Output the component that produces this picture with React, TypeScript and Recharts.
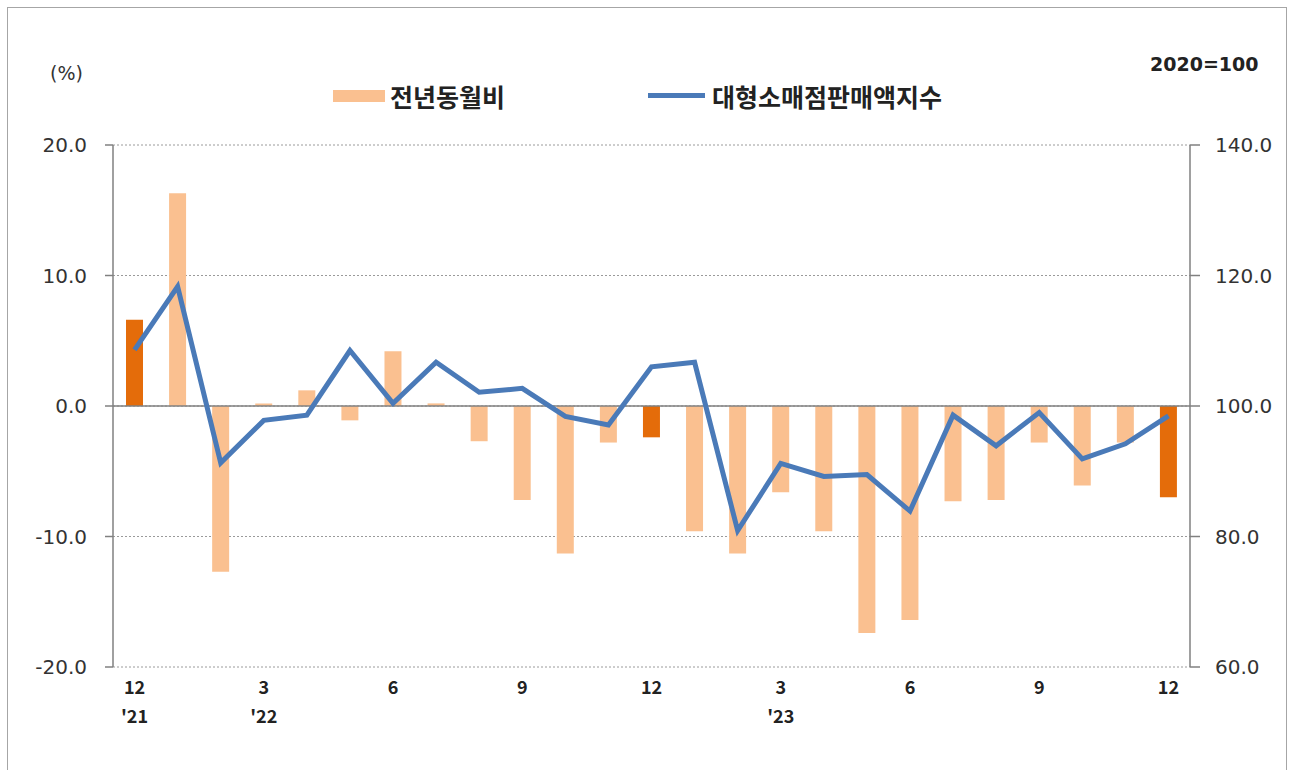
import React from 'react';
import { ComposedChart, Bar, Line, XAxis, YAxis, CartesianGrid, ReferenceLine, Cell } from 'recharts';

// Dec 2021 .. Dec 2023
const months = [12, 1, 2, 3, 4, 5, 6, 7, 8, 9, 10, 11, 12, 1, 2, 3, 4, 5, 6, 7, 8, 9, 10, 11, 12];
const monthLabels = ['12', '', '', '3', '', '', '6', '', '', '9', '', '', '12', '', '', '3', '', '', '6', '', '', '9', '', '', '12'];
const yearLabels = ["'21", '', '', "'22", '', '', '', '', '', '', '', '', '', '', '', "'23", '', '', '', '', '', '', '', '', ''];

// 전년동월비 (%)
const yoyChange = [6.6, 16.3, -12.7, 0.2, 1.2, -1.1, 4.2, 0.2, -2.7, -7.2, -11.3, -2.8, -2.4, -9.6, -11.3, -6.6, -9.6, -17.4, -16.4, -7.3, -7.2, -2.8, -6.1, -2.8, -7.0];
// 대형소매점판매액지수 (2020=100)
const salesIndex = [108.6, 118.3, 91.3, 97.8, 98.6, 108.5, 100.4, 106.7, 102.1, 102.7, 98.4, 97.1, 106.0, 106.7, 80.9, 91.2, 89.2, 89.5, 83.9, 98.6, 93.9, 99.0, 91.9, 94.2, 98.5];

const leftTicks = [-20, -10, 0, 10, 20];
const rightTicks = [60, 80, 100, 120, 140];

const data = months.map((m, i) => ({
  idx: i,
  month: m,
  yoy: yoyChange[i],
  index: salesIndex[i],
}));

const LIGHT = '#FAC090';
const DARK = '#E46C0A';
const BLUE = '#4A7AB8';
const TEXT = '#333';

const MonthTick = (props: any) => {
  const { x, y, payload } = props;
  const i = payload.value;
  return (
    <g>
      {monthLabels[i] && (
        <text x={x} y={y + 27} textAnchor="middle" fontSize={18} fontWeight={700} fill="#222"
          fontFamily="'Noto Sans CJK KR', 'Noto Sans', sans-serif">
          {monthLabels[i]}
        </text>
      )}
      {yearLabels[i] && (
        <text x={x} y={y + 56} textAnchor="middle" fontSize={18} fontWeight={700} fill="#222"
          fontFamily="'Noto Sans CJK KR', 'Noto Sans', sans-serif">
          {yearLabels[i]}
        </text>
      )}
    </g>
  );
};

export default function App() {
  const tickStyle = { fontSize: 20, fill: TEXT, fontFamily: "'DejaVu Sans', Verdana, sans-serif" };
  return (
    <div style={{ position: 'absolute', left: 0, top: 0, width: 1292, height: 770, background: '#fff', overflow: 'hidden' }}>
      <div style={{ position: 'absolute', left: 7, top: 7, width: 1278, height: 800, border: '1.5px solid #a6a6a6' }} />
      <div style={{ position: 'absolute', left: 50, top: 62, fontSize: 19, color: TEXT, fontFamily: "'DejaVu Sans', sans-serif" }}>(%)</div>
      <div style={{ position: 'absolute', left: 1150, top: 53, fontSize: 19, fontWeight: 700, color: '#222', fontFamily: "'DejaVu Sans', sans-serif" }}>2020=100</div>
      <div style={{ position: 'absolute', left: 333, top: 90, width: 52, height: 12, background: LIGHT }} />
      <div style={{ position: 'absolute', left: 390, top: 79, fontSize: 25, fontWeight: 700, color: '#222', lineHeight: '34px', fontFamily: "'Noto Sans CJK KR', sans-serif" }}>전년동월비</div>
      <div style={{ position: 'absolute', left: 648, top: 93, width: 57, height: 5, background: BLUE }} />
      <div style={{ position: 'absolute', left: 712, top: 79, fontSize: 25, fontWeight: 700, color: '#222', lineHeight: '34px', fontFamily: "'Noto Sans CJK KR', sans-serif" }}>대형소매점판매액지수</div>
      <div style={{ position: 'absolute', left: 0, top: 0 }}>
        <ComposedChart width={1292} height={770} data={data} margin={{ top: 145, right: 0, bottom: 43, left: 0 }}>
          <CartesianGrid yAxisId="left" vertical={false} stroke="#9a9a9a" strokeDasharray="2 2" />
          <XAxis dataKey="idx" type="category" interval={0} axisLine={false} tickLine={false} tickSize={0} tickMargin={0}
            height={60} tick={<MonthTick />} />
          <YAxis yAxisId="left" orientation="left" domain={[-20, 20]} ticks={leftTicks} width={113}
            tickFormatter={(v: number) => v.toFixed(1)} tick={tickStyle}
            axisLine={{ stroke: '#808080', strokeWidth: 1.5 }} tickLine={{ stroke: '#808080', strokeWidth: 1.5 }}
            tickSize={8} tickMargin={18} />
          <YAxis yAxisId="right" orientation="right" domain={[60, 140]} ticks={rightTicks} width={102}
            tickFormatter={(v: number) => v.toFixed(1)} tick={{ ...tickStyle, textAnchor: 'start' }}
            axisLine={{ stroke: '#808080', strokeWidth: 1.5 }} tickLine={{ stroke: '#808080', strokeWidth: 1.5 }}
            tickSize={10} tickMargin={15} />
          <ReferenceLine yAxisId="left" y={0} stroke="#808080" strokeWidth={1.5} />
          <Bar yAxisId="left" dataKey="yoy" barSize={17} isAnimationActive={false}>
            {data.map((d) => (
              <Cell key={d.idx} fill={d.month === 12 ? DARK : LIGHT} />
            ))}
          </Bar>
          <Line yAxisId="right" dataKey="index" type="linear" stroke={BLUE} strokeWidth={5} dot={false}
            strokeLinejoin="miter" isAnimationActive={false} />
        </ComposedChart>
      </div>
    </div>
  );
}
